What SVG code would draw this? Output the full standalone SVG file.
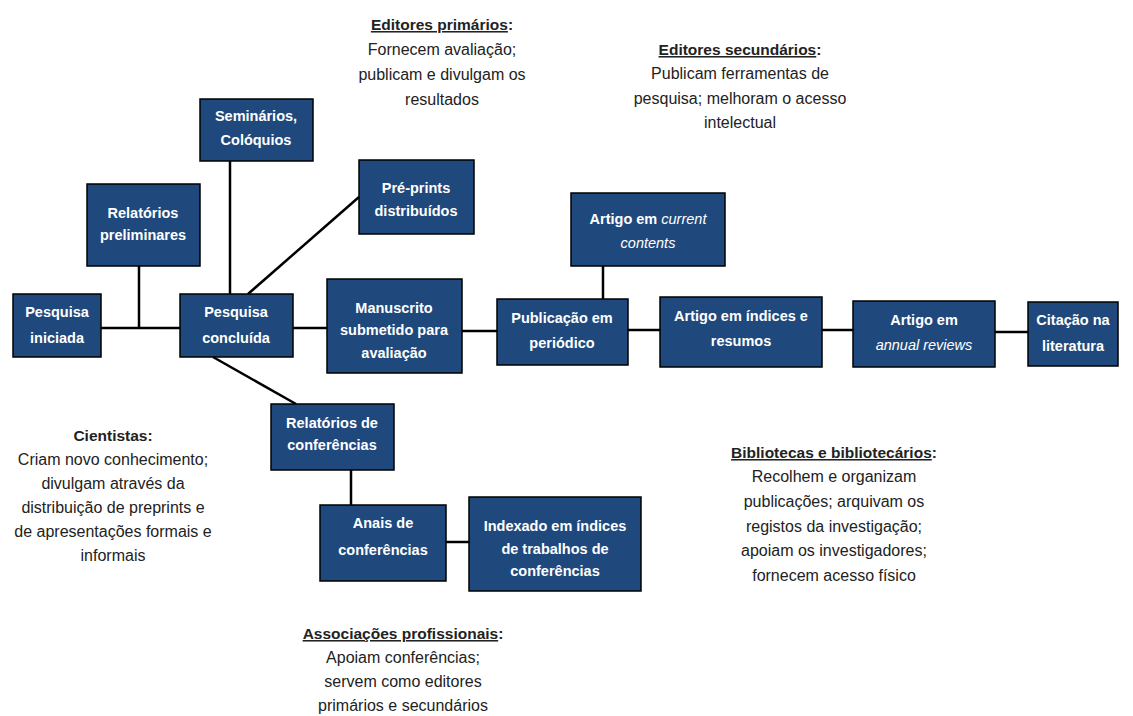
<svg xmlns="http://www.w3.org/2000/svg" width="1133" height="716" viewBox="0 0 1133 716">
<style>
.box{fill:#1f497d;stroke:#000;stroke-width:1.5}
.bt{font-family:"Liberation Sans",Arial,sans-serif;font-size:14.5px;font-weight:bold;fill:#fff;text-anchor:middle}
.it{font-style:italic;font-weight:normal}
.dt{font-family:"Liberation Sans",Arial,sans-serif;font-size:16px;fill:#222;text-anchor:middle}
.hd{font-weight:bold;font-size:15.5px}
.u{text-decoration:underline}
.con line{stroke:#000;stroke-width:2.5}
</style>
<rect width="1133" height="716" fill="#fff"/>
<g class="con">
<line x1="101" y1="328" x2="180" y2="328"/>
<line x1="139" y1="266" x2="139" y2="328"/>
<line x1="230" y1="161" x2="230" y2="294"/>
<line x1="248" y1="294" x2="359" y2="197"/>
<line x1="293" y1="328" x2="327" y2="328"/>
<line x1="462" y1="331" x2="497" y2="331"/>
<line x1="603" y1="266" x2="603" y2="299"/>
<line x1="628" y1="330" x2="660" y2="330"/>
<line x1="822" y1="330" x2="853" y2="330"/>
<line x1="995" y1="332" x2="1028" y2="332"/>
<line x1="213" y1="357" x2="296" y2="404"/>
<line x1="351" y1="470" x2="351" y2="505"/>
<line x1="446" y1="542" x2="469" y2="542"/>
</g>
<g id="seminarios"><rect class="box" x="200" y="99" width="113" height="62"/><text class="bt"><tspan x="256" y="121">Seminários,</tspan><tspan x="256" y="145">Colóquios</tspan></text></g>
<g id="relatorios-preliminares"><rect class="box" x="87" y="184" width="113" height="82"/><text class="bt"><tspan x="143" y="218">Relatórios</tspan><tspan x="143" y="240">preliminares</tspan></text></g>
<g id="preprints"><rect class="box" x="359" y="160" width="115" height="74"/><text class="bt"><tspan x="416" y="193">Pré-prints</tspan><tspan x="416" y="216">distribuídos</tspan></text></g>
<g id="pesquisa-iniciada"><rect class="box" x="13" y="294" width="88" height="63"/><text class="bt"><tspan x="57" y="317">Pesquisa</tspan><tspan x="57" y="343">iniciada</tspan></text></g>
<g id="pesquisa-concluida"><rect class="box" x="180" y="294" width="113" height="63"/><text class="bt"><tspan x="236" y="317">Pesquisa</tspan><tspan x="236" y="343">concluída</tspan></text></g>
<g id="manuscrito"><rect class="box" x="327" y="279" width="135" height="94"/><text class="bt"><tspan x="394" y="313">Manuscrito</tspan><tspan x="394" y="335">submetido para</tspan><tspan x="394" y="358">avaliação</tspan></text></g>
<g id="publicacao"><rect class="box" x="497" y="299" width="131" height="66"/><text class="bt"><tspan x="562" y="323">Publicação em</tspan><tspan x="562" y="348">periódico</tspan></text></g>
<g id="current-contents"><rect class="box" x="571" y="193" width="154" height="73"/><text class="bt"><tspan x="648" y="224">Artigo em <tspan class="it">current</tspan></tspan><tspan x="648" y="248" class="it">contents</tspan></text></g>
<g id="indices-resumos"><rect class="box" x="660" y="297" width="162" height="70"/><text class="bt"><tspan x="741" y="321">Artigo em índices e</tspan><tspan x="741" y="346">resumos</tspan></text></g>
<g id="annual-reviews"><rect class="box" x="853" y="301" width="142" height="66"/><text class="bt"><tspan x="924" y="325">Artigo em</tspan><tspan x="924" y="350" class="it">annual reviews</tspan></text></g>
<g id="citacao"><rect class="box" x="1028" y="302" width="90" height="64"/><text class="bt"><tspan x="1073" y="325">Citação na</tspan><tspan x="1073" y="351">literatura</tspan></text></g>
<g id="relatorios-conferencias"><rect class="box" x="271" y="404" width="123" height="66"/><text class="bt"><tspan x="332" y="428">Relatórios de</tspan><tspan x="332" y="450">conferências</tspan></text></g>
<g id="anais"><rect class="box" x="320" y="505" width="126" height="76"/><text class="bt"><tspan x="383" y="528">Anais de</tspan><tspan x="383" y="555">conferências</tspan></text></g>
<g id="indexado"><rect class="box" x="469" y="497" width="172" height="94"/><text class="bt"><tspan x="555" y="531">Indexado em índices</tspan><tspan x="555" y="554">de trabalhos de</tspan><tspan x="555" y="576">conferências</tspan></text></g>
<g id="editores-primarios"><text class="dt"><tspan x="442" y="30" class="hd"><tspan class="u">Editores primários</tspan>:</tspan><tspan x="442" y="55">Fornecem avaliação;</tspan><tspan x="442" y="80">publicam e divulgam os</tspan><tspan x="442" y="105">resultados</tspan></text></g>
<g id="editores-secundarios"><text class="dt"><tspan x="740" y="55" class="hd"><tspan class="u">Editores secundários</tspan>:</tspan><tspan x="740" y="79">Publicam ferramentas de</tspan><tspan x="740" y="104">pesquisa; melhoram o acesso</tspan><tspan x="740" y="128">intelectual</tspan></text></g>
<g id="cientistas"><text class="dt"><tspan x="113" y="441" class="hd">Cientistas:</tspan><tspan x="113" y="465">Criam novo conhecimento;</tspan><tspan x="113" y="489">divulgam através da</tspan><tspan x="113" y="513">distribuição de preprints e</tspan><tspan x="113" y="537">de apresentações formais e</tspan><tspan x="113" y="561">informais</tspan></text></g>
<g id="bibliotecas"><text class="dt"><tspan x="834" y="458" class="hd"><tspan class="u">Bibliotecas e bibliotecários</tspan>:</tspan><tspan x="834" y="482">Recolhem e organizam</tspan><tspan x="834" y="507">publicações; arquivam os</tspan><tspan x="834" y="532">registos da investigação;</tspan><tspan x="834" y="556">apoiam os investigadores;</tspan><tspan x="834" y="581">fornecem acesso físico</tspan></text></g>
<g id="associacoes"><text class="dt"><tspan x="403" y="639" class="hd"><tspan class="u">Associações profissionais</tspan>:</tspan><tspan x="403" y="663">Apoiam conferências;</tspan><tspan x="403" y="687">servem como editores</tspan><tspan x="403" y="711">primários e secundários</tspan></text></g>
</svg>
